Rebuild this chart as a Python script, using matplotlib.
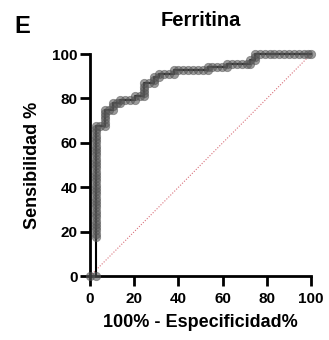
import matplotlib
matplotlib.use("Agg")
import matplotlib.pyplot as plt

plt.rcParams['font.family'] = ['Liberation Sans', 'DejaVu Sans']
plt.rcParams['font.weight'] = 'bold'

# ROC points: 100% - specificity (x) and sensitivity (y), in percent
fpr = [0.0, 2.6,
       2.6, 2.6, 2.6, 2.6, 2.6, 2.6, 2.6, 2.6, 2.6, 2.6, 2.6, 2.6,
       2.6, 2.6, 2.6, 2.6, 2.6, 2.6, 2.6, 2.6, 2.6, 2.6, 2.6, 2.6,
       2.6, 2.6, 2.6, 2.6, 2.6, 2.6, 2.6, 2.6, 2.6, 2.6, 2.6,
       4.7, 6.8,
       6.8, 6.8, 6.8, 6.8, 6.8,
       8.7, 10.6,
       10.6, 10.6,
       12.1, 13.6,
       13.6,
       15.8, 18.0, 20.2,
       20.2,
       22.4, 24.6,
       24.6, 24.6, 24.6, 24.6,
       26.8, 29.0,
       29.0, 29.0,
       31.2,
       31.2,
       33.4, 35.6, 37.8,
       37.8,
       40.0, 42.2, 44.4, 46.6, 48.8, 51.0, 53.2,
       53.2,
       55.4, 57.6, 59.8, 62.0,
       62.0,
       64.2, 66.4, 68.6, 70.8, 72.4,
       72.4,
       74.6,
       74.6, 74.6,
       76.8, 79.0, 81.2, 83.4, 85.6, 87.8, 90.0, 92.2, 94.4, 96.6, 98.8, 100.0]
tpr = [0.0, 0.0,
       17.6, 19.1, 20.6, 22.1, 23.5, 25.0, 26.5, 27.9, 29.4, 30.9, 32.4, 33.8,
       35.3, 36.8, 38.2, 39.7, 41.2, 42.6, 44.1, 45.6, 47.1, 48.5, 50.0, 51.5,
       52.9, 54.4, 55.9, 57.4, 58.8, 60.3, 61.8, 63.2, 64.7, 66.2, 67.6,
       67.6, 67.6,
       69.1, 70.6, 72.1, 73.5, 75.0,
       75.0, 75.0,
       76.5, 77.9,
       77.9, 77.9,
       79.4,
       79.4, 79.4, 79.4,
       80.9,
       80.9, 80.9,
       82.4, 83.8, 85.3, 86.8,
       86.8, 86.8,
       88.2, 89.7,
       89.7,
       91.2,
       91.2, 91.2, 91.2,
       92.6,
       92.6, 92.6, 92.6, 92.6, 92.6, 92.6, 92.6,
       94.1,
       94.1, 94.1, 94.1, 94.1,
       95.6,
       95.6, 95.6, 95.6, 95.6, 95.6,
       97.1,
       97.1,
       98.5, 100.0,
       100.0, 100.0, 100.0, 100.0, 100.0, 100.0, 100.0, 100.0, 100.0, 100.0, 100.0, 100.0]

ticks = [0, 20, 40, 60, 80, 100]

fig = plt.figure(figsize=(3.29, 3.40), dpi=100)
ax = fig.add_axes([0.2736, 0.188, 0.672, 0.653])

# reference line of no discrimination
ax.plot([0, 100], [0, 100], linestyle=(0, (1, 1.5)), color='#d9707a', lw=0.8)

ax.plot(fpr, tpr, color='black', lw=1.5, marker='o', markersize=6,
        markerfacecolor=(0.35, 0.35, 0.35, 0.6), markeredgecolor=(0.3, 0.3, 0.3, 0.5),
        markeredgewidth=0.6, clip_on=False, zorder=3)

ax.set_xlim(0, 100)
ax.set_ylim(0, 100)
ax.set_xticks(ticks)
ax.set_yticks(ticks)
for s in ['top', 'right']:
    ax.spines[s].set_visible(False)
for s in ['left', 'bottom']:
    ax.spines[s].set_linewidth(2)
ax.tick_params(direction='out', length=7, width=2, labelsize=11)
ax.tick_params(axis='x', pad=4.5)
ax.tick_params(axis='y', pad=2)
for lab in ax.get_xticklabels() + ax.get_yticklabels():
    lab.set_fontweight('bold')

ax.set_xlabel('100% - Especificidad%', fontsize=13, fontweight='bold', labelpad=6)
ax.set_ylabel('Sensibilidad %', fontsize=13, fontweight='bold', labelpad=8)
ax.set_title('Ferritina', fontsize=14.5, fontweight='bold', pad=20)
fig.text(0.045, 0.922, 'E', fontsize=17, fontweight='bold', ha='left', va='center')

fig.savefig('out.png', dpi=100)
